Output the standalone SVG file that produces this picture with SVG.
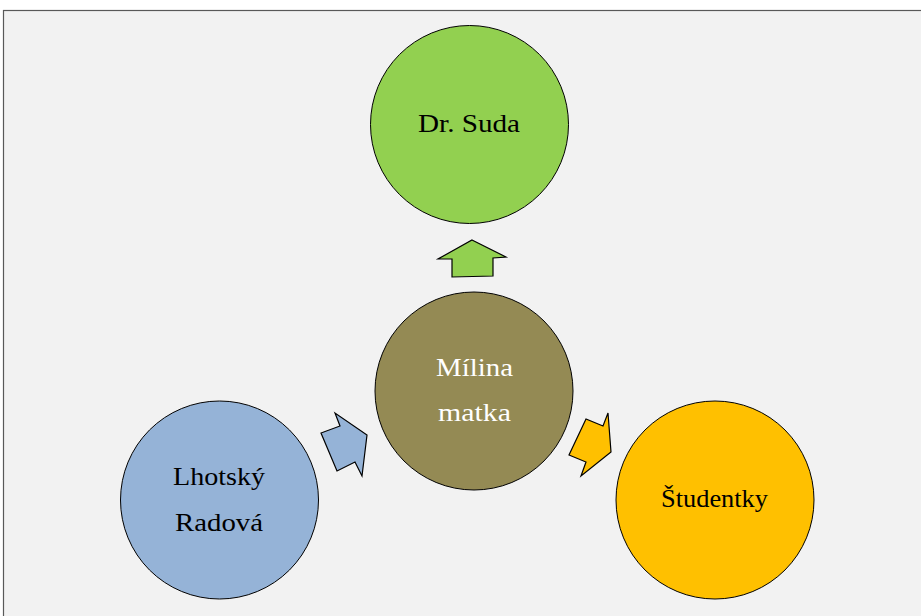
<svg xmlns="http://www.w3.org/2000/svg" width="921" height="616" viewBox="0 0 921 616">
  <style>
    .node { stroke: #000; stroke-width: 1; }
    .arrow { stroke: #000; stroke-width: 1.2; stroke-linejoin: miter; }
    .label { font-family: "Liberation Serif", "DejaVu Serif", serif; font-size: 25px; text-anchor: middle; fill: #000; }
    .light { fill: #fff; }
  </style>
  <rect x="0" y="0" width="921" height="616" fill="#ffffff"/>
  <rect x="3.5" y="10.5" width="930" height="620" fill="#f2f2f2" stroke="#595959" stroke-width="1.2"/>

  <g id="connectors">
    <polygon class="arrow" fill="#92d050" points="472,240 506,257 493,258 493,276 452,277 452,259 438,259"/>
    <polygon class="arrow" fill="#95b3d7" points="335,413 340,426 321,433 337,471 355,462 362,476 367,435"/>
    <polygon class="arrow" fill="#ffc000" points="608,413 611,452 581,476 586,462 569,455 586,419 603,426"/>
  </g>

  <g id="dr-suda">
    <circle class="node" cx="469.5" cy="124.5" r="99" fill="#92d050"/>
    <text class="label" x="469" y="132" textLength="102" lengthAdjust="spacingAndGlyphs">Dr. Suda</text>
  </g>

  <g id="milina-matka">
    <circle class="node" cx="474" cy="391" r="99" fill="#948a54"/>
    <text class="label light" x="474.5" y="376" textLength="77" lengthAdjust="spacingAndGlyphs">Mílina</text>
    <text class="label light" x="474.5" y="421" textLength="73" lengthAdjust="spacingAndGlyphs">matka</text>
  </g>

  <g id="lhotsky-radova">
    <circle class="node" cx="219.5" cy="500" r="99" fill="#95b3d7"/>
    <text class="label" x="219" y="485" textLength="92" lengthAdjust="spacingAndGlyphs">Lhotský</text>
    <text class="label" x="219" y="531" textLength="88" lengthAdjust="spacingAndGlyphs">Radová</text>
  </g>

  <g id="studentky">
    <circle class="node" cx="715" cy="500" r="99" fill="#ffc000"/>
    <text class="label" x="714.5" y="507" textLength="107" lengthAdjust="spacingAndGlyphs">Študentky</text>
  </g>
</svg>
